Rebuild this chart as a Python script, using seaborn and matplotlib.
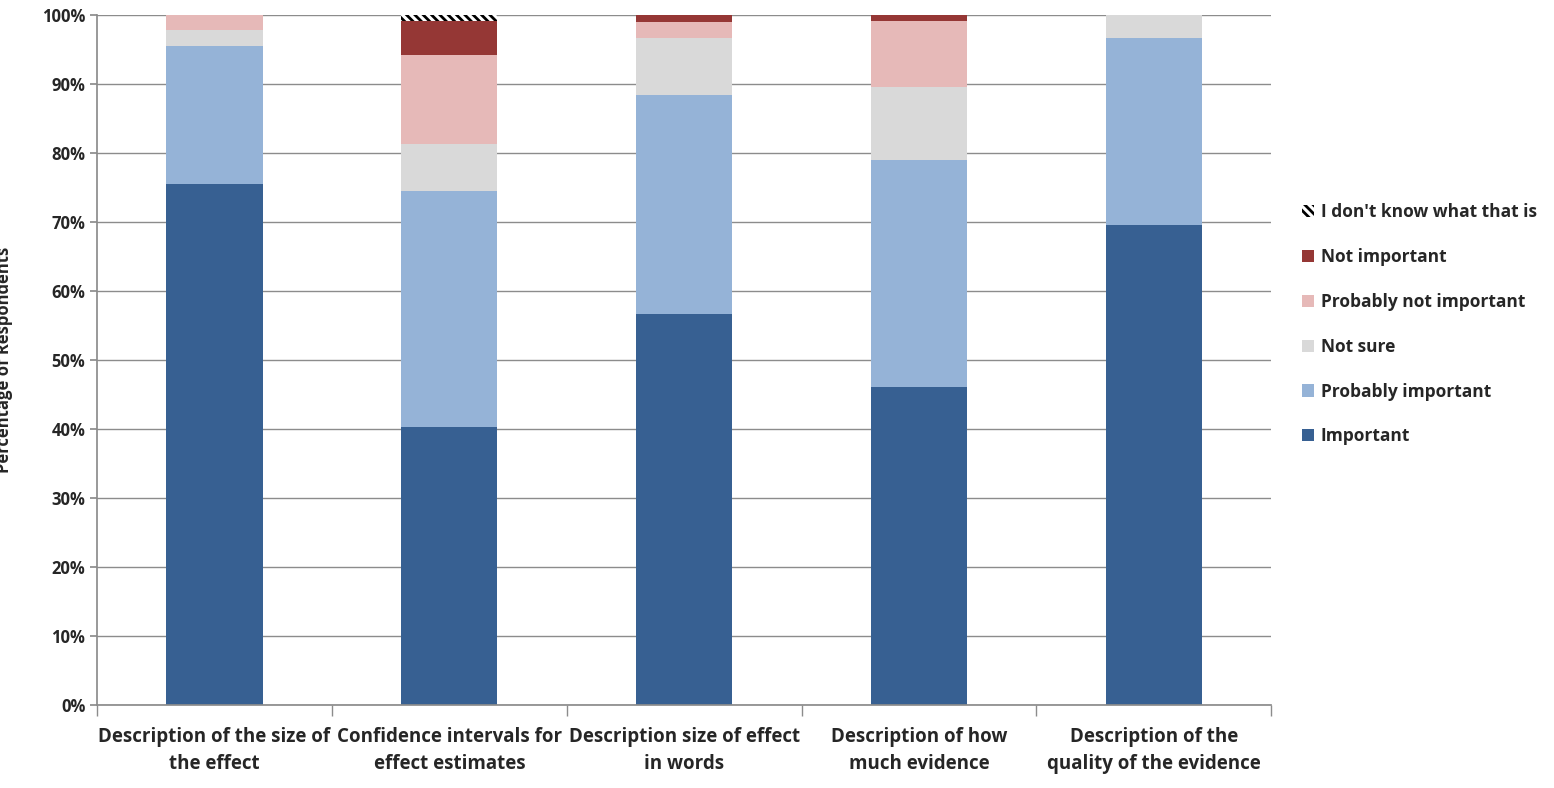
import numpy as np
import matplotlib.pyplot as plt
import seaborn as sns

categories = ["Description of the size of\nthe effect", "Confidence intervals for\neffect estimates",
              "Description size of effect\nin words", "Description of how\nmuch evidence",
              "Description of the\nquality of the evidence"]
important = [75.5, 40.3, 56.7, 46.1, 69.6]
prob_important = [20.0, 34.2, 31.7, 32.9, 27.1]
not_sure = [2.3, 6.8, 8.3, 10.6, 3.3]
prob_not_important = [2.2, 12.9, 2.3, 9.5, 0.0]
not_important = [0.0, 4.9, 1.0, 0.9, 0.0]
dont_know = [0.0, 0.9, 0.0, 0.0, 0.0]

series = [("Important", important, "#376092"),
          ("Probably important", prob_important, "#95B3D7"),
          ("Not sure", not_sure, "#D9D9D9"),
          ("Probably not important", prob_not_important, "#E6B9B8"),
          ("Not important", not_important, "#953735"),
          ("I don't know what that is", dont_know, "white")]

sns.set_theme(style="white")
plt.rcParams['font.family'] = ['Open Sans', 'DejaVu Sans']
plt.rcParams['font.weight'] = 'bold'
plt.rcParams['hatch.linewidth'] = 2.0

fig, ax = plt.subplots(figsize=(15.54, 7.88), dpi=100)
fig.subplots_adjust(left=0.0625, right=0.818, top=0.981, bottom=0.105)

bottom = np.zeros(len(categories))
for name, vals, col in series:
    sns.barplot(x=categories, y=vals, bottom=bottom, color=col, width=0.41,
                ax=ax, label=name, saturation=1,
                hatch="\\\\\\\\" if name.startswith("I don") else None,
                edgecolor="black" if name.startswith("I don") else col, linewidth=0)
    bottom += np.array(vals)

ax.set_ylim(0, 100)
ax.set_xlim(-0.5, len(categories) - 0.5)
ax.set_yticks(range(0, 101, 10))
ax.set_yticklabels([f"{v}%" for v in range(0, 101, 10)], fontsize=12, fontweight="bold")
ax.yaxis.grid(True, color="#8c8c8c", linewidth=1)
ax.set_axisbelow(True)
ax.tick_params(axis="x", length=0, labelsize=13.5, pad=16)
for lab in ax.get_xticklabels():
    lab.set_fontweight("bold")
    lab.set_linespacing(1.45)
ax.set_xticks(np.arange(-0.5, len(categories)), minor=True)
ax.tick_params(axis="x", which="minor", length=8, color="#8c8c8c", direction="out", bottom=True)
ax.tick_params(axis="y", length=5, color="#8c8c8c", left=True)
for s in ["top", "right"]:
    ax.spines[s].set_visible(False)
for s in ["left", "bottom"]:
    ax.spines[s].set_color("#8c8c8c")
ax.set_ylabel("Percentage of Respondents", fontsize=12, fontweight="bold", labelpad=4)
ax.yaxis.set_label_coords(-0.072, 0.5)

h, l = ax.get_legend_handles_labels()
ax.legend(h[::-1], l[::-1], loc="center left", bbox_to_anchor=(1.02, 0.552), frameon=False,
          fontsize=12.5, handlelength=0.7, handleheight=0.7, labelspacing=1.55,
          handletextpad=0.4, borderaxespad=0)

plt.savefig("out.png")
